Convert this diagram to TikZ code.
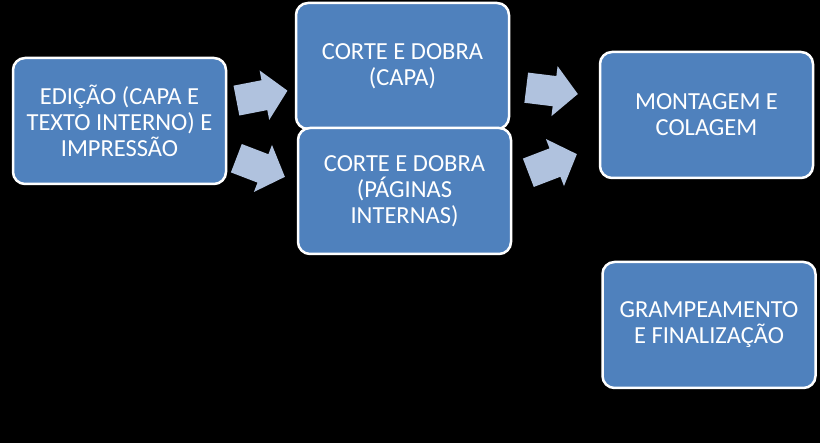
\documentclass[tikz,border=0pt]{standalone}
\usepackage{fontspec}
\setmainfont{Carlito}
\usepackage{tikz}
\usetikzlibrary{arrows,positioning,calc,shapes.arrows}
\definecolor{stageblue}{RGB}{79,129,189}
\definecolor{arrowblue}{RGB}{176,194,222}
\tikzstyle{stage}=[draw=white,fill=stageblue,line width=2.5pt,rounded corners=12pt,
  minimum width=213pt,minimum height=126pt,align=center,text=white,inner sep=0pt,
  font=\fontsize{24.5}{26}\selectfont]
\tikzstyle{flow}=[single arrow,fill=arrowblue,draw=none,minimum height=52pt,minimum width=50pt,
  text height=15pt,text depth=15pt,text width=0pt,
  single arrow head extend=10pt,single arrow tip angle=94,inner sep=0pt]

\begin{document}
\begin{tikzpicture}[x=1pt,y=1pt]
\fill[black] (0,0) rectangle (820,443);
\node [stage] (edicao) at (119.5,322) {EDIÇÃO (CAPA E\\TEXTO INTERNO) E\\IMPRESSÃO};
\node [stage] (capa) at (402.5,377) {CORTE E DOBRA\\(CAPA)};
\node [stage] (paginas) at (404.5,252) {CORTE E DOBRA\\(PÁGINAS\\INTERNAS)};
\node [stage] (montagem) at (706.5,328) {MONTAGEM E\\COLAGEM};
\node [stage] (grampo) at (709,118) {GRAMPEAMENTO\\E FINALIZAÇÃO};
% setas
\node [flow,rotate=11] (a1) at (255,346) {};
\node [flow,rotate=-21] (a2) at (254,278) {};
\node [flow,rotate=-7] (a3) at (545,353) {};
\node [flow,rotate=21] (a4) at (546,277) {};
\end{tikzpicture}
\end{document}
